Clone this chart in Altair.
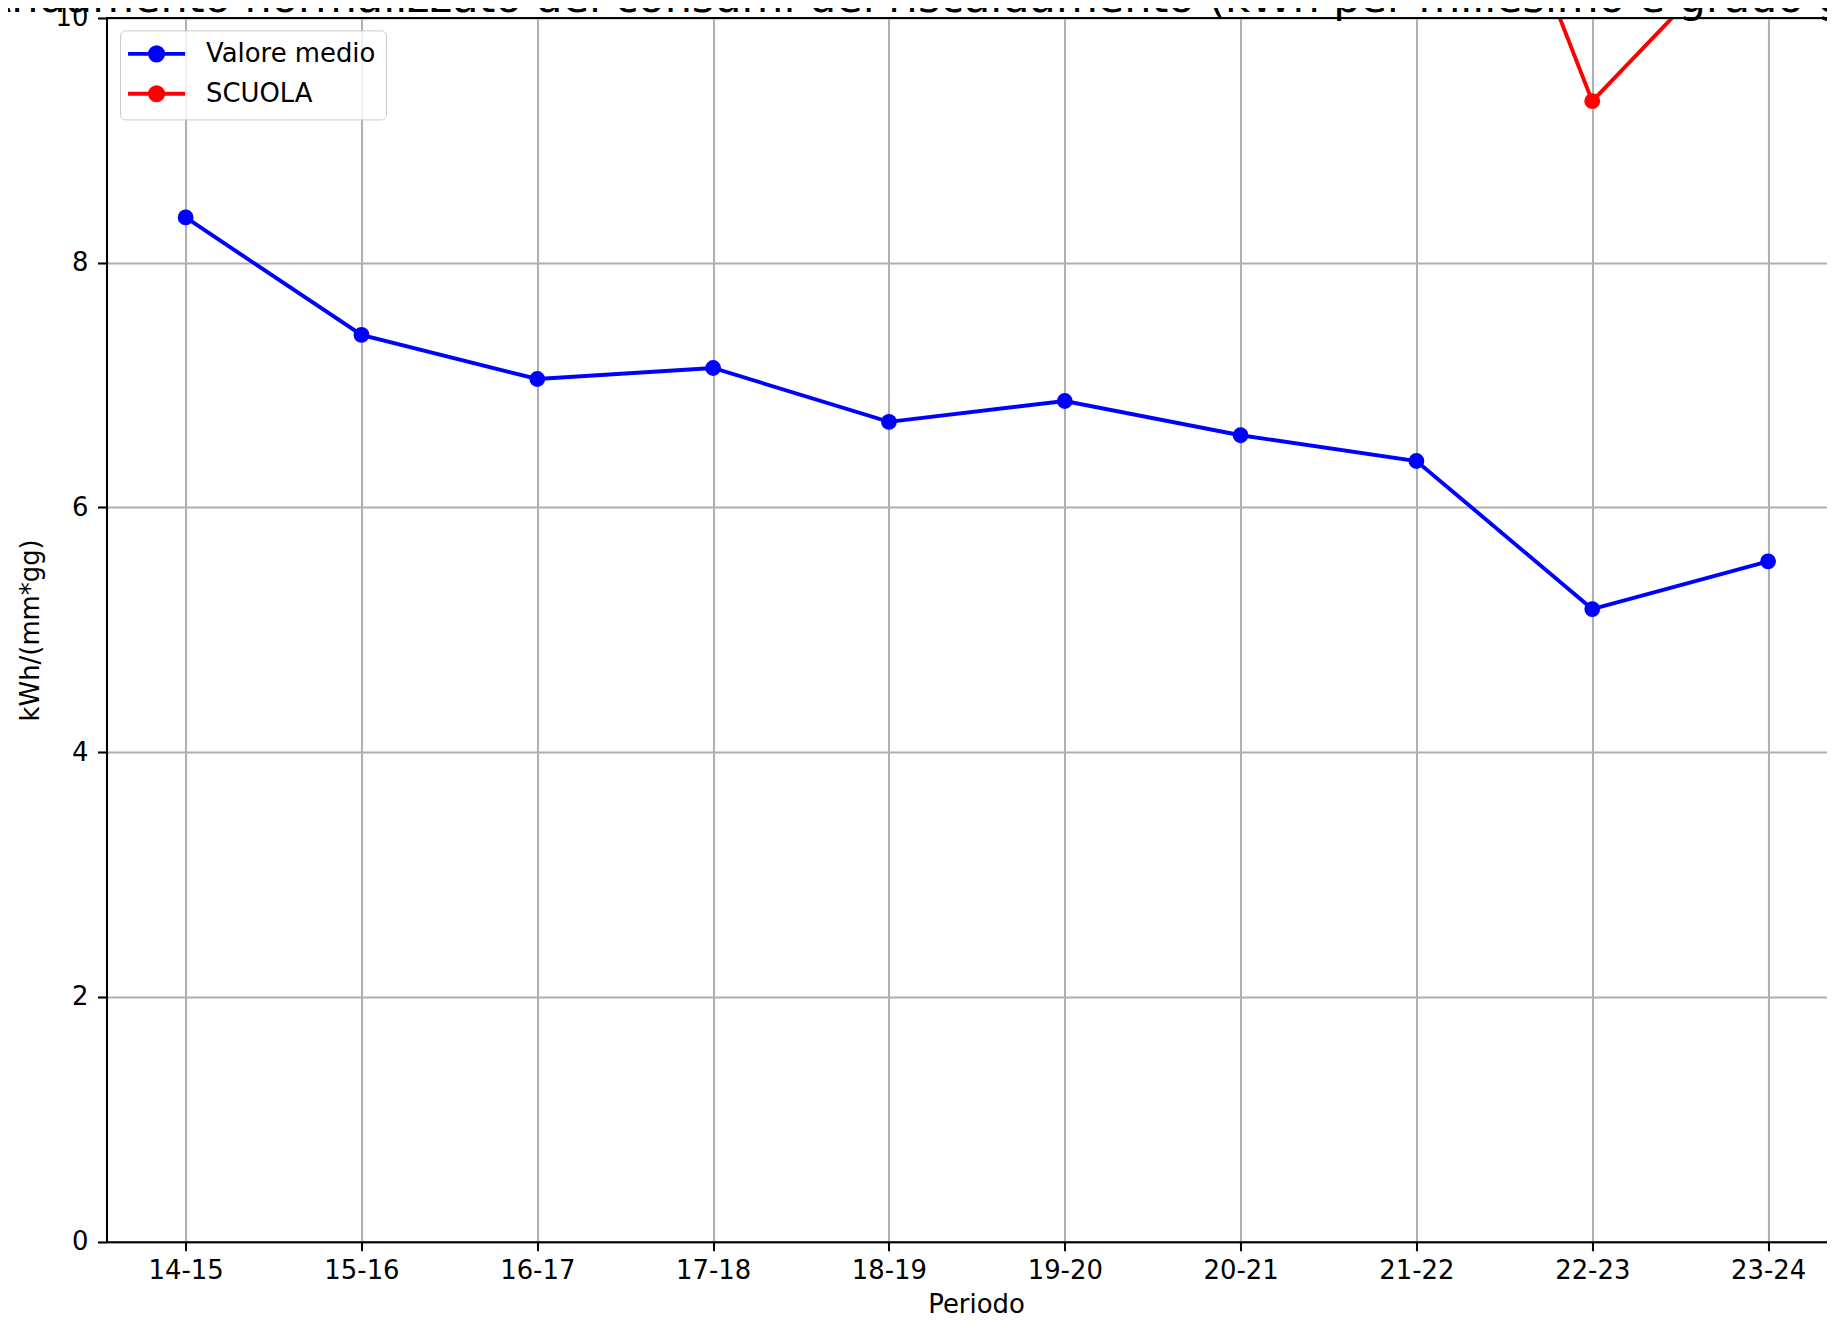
import json
import altair as alt
import pandas as pd

# ---- data ----
periods = ["14-15", "15-16", "16-17", "17-18", "18-19",
           "19-20", "20-21", "21-22", "22-23", "23-24"]
valore_medio = [8.37, 7.41, 7.05, 7.14, 6.70, 6.87, 6.59, 6.38, 5.17, 5.56]
# SCUOLA: only the last three seasons can be read (others are far above the visible range)
scuola_periods = ["21-22", "22-23", "23-24"]
scuola = [13.0, 9.32, 10.82]
series_names = ["Valore medio", "SCUOLA"]
series_colors = ["#0000ff", "#ff0000"]
y_ticks = [0, 2, 4, 6, 8, 10]
TITLE = "Andamento normalizzato dei consumi del riscaldamento (kWh per millesimo e grado giorno)"

rows = []
for i, (p, v) in enumerate(zip(periods, valore_medio)):
    rows.append({"periodo": p, "idx": i, "value": v, "series": "Valore medio"})
for p, v in zip(scuola_periods, scuola):
    rows.append({"periodo": p, "idx": periods.index(p), "value": v, "series": "SCUOLA"})
df = pd.DataFrame(rows)

FONT = "DejaVu Sans"
FS = 25.9
LW = 2.07
W = 1720.5
H = 1223.7

# legend symbol: line + filled dot drawn with strokes (unit = sqrt(size)/2 = 10px)
SYMBOL = ("M-2.85,0H2.85"
          "M0.66,0A0.66,0.66,0,1,1,-0.66,0A0.66,0.66,0,1,1,0.66,0"
          "M0.26,0A0.26,0.26,0,1,1,-0.26,0A0.26,0.26,0,1,1,0.26,0")

x_enc = alt.X(
    "idx:Q",
    scale=alt.Scale(domain=[-0.45, 9.335], nice=False, zero=False),
    axis=alt.Axis(
        values=list(range(len(periods))),
        labelExpr=json.dumps(periods) + "[datum.value]",
        title="Periodo", titleX=869.5,
        grid=True, gridColor="#b0b0b0", gridWidth=LW,
        domainColor="black", domainWidth=LW,
        tickColor="black", tickWidth=LW, tickSize=9,
        labelFont=FONT, labelFontSize=FS, labelColor="black", labelPadding=8,
        labelFlush=False, labelOverlap=False,
        titleFont=FONT, titleFontSize=FS, titleFontWeight="normal",
        titleColor="black", titlePadding=9,
    ),
)
y_enc = alt.Y(
    "value:Q",
    scale=alt.Scale(domain=[0, 10], nice=False, zero=True),
    axis=alt.Axis(
        values=y_ticks, format="d",
        title="kWh/(mm*gg)",
        grid=True, gridColor="#b0b0b0", gridWidth=LW,
        domainColor="black", domainWidth=LW,
        tickColor="black", tickWidth=LW, tickSize=9,
        labelFont=FONT, labelFontSize=FS, labelColor="black", labelPadding=9.5,
        titleFont=FONT, titleFontSize=FS, titleFontWeight="normal",
        titleColor="black", titlePadding=12,
    ),
)
color_enc = alt.Color(
    "series:N",
    scale=alt.Scale(domain=series_names, range=series_colors),
    sort=series_names,
    legend=alt.Legend(
        title=None, orient="none", legendX=13.5, legendY=12.4,
        symbolType=SYMBOL, symbolSize=400, symbolStrokeWidth=3.9,
        symbolOffset=13.1,
        labelFont=FONT, labelFontSize=FS, labelColor="black", labelLimit=500,
        padding=10.5, rowPadding=9.9, labelOffset=36.5,
        fillColor="rgba(255,255,255,0.8)", strokeColor="#cccccc",
        cornerRadius=5,
    ),
)

lines = alt.Chart(df).mark_line(
    strokeWidth=3.9, clip=True,
    point=alt.OverlayMarkDef(filled=True, size=250, clip=True, opacity=1),
).encode(x=x_enc, y=y_enc, color=color_enc, order="idx:Q")

top_spine = alt.Chart(df).mark_rule(color="black", strokeWidth=LW).encode(
    y=alt.datum(10)
)

title_text = alt.Chart(pd.DataFrame({"t": [TITLE]})).mark_text(
    font=FONT, fontSize=43, color="black", align="center", baseline="alphabetic",
).encode(text="t:N", x=alt.value(869.5), y=alt.value(-6))

chart = alt.layer(lines, top_spine, title_text).properties(
    width=W, height=H,
    padding={"left": 98.5, "top": 10, "right": 0, "bottom": 72},
    autosize=alt.AutoSizeParams(type="none"),
).configure_view(stroke=None)

chart.save("out.html", embed_options={"renderer": "svg", "actions": False})
